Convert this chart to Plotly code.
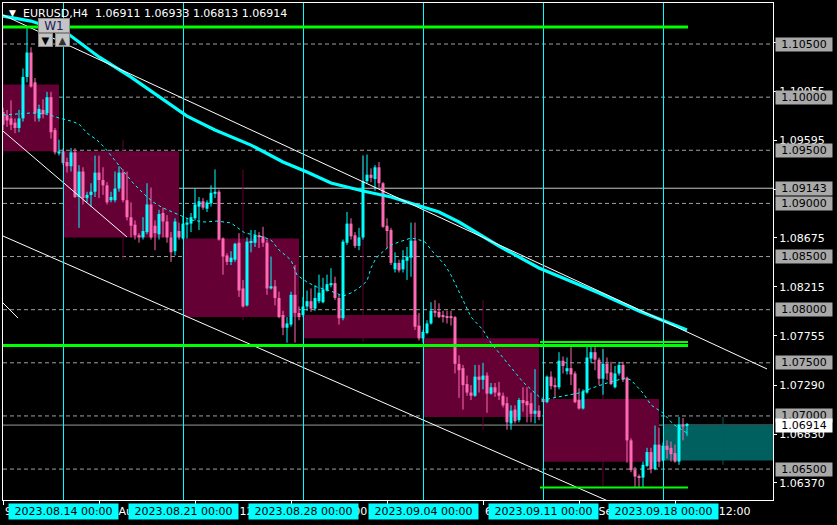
import plotly.graph_objects as go

# ---------------- H4 candles (bar index 0 = 9 Aug 12:00) ----------------
opens = [1.0986, 1.0983, 1.0980, 1.0976, 1.0971, 1.0980, 1.1019, 1.1042, 1.1014, 1.0980,
         1.0988, 1.0985, 1.1000, 1.0969, 1.0947, 1.0949, 1.0939, 1.0935, 1.0948, 1.0906,
         1.0930, 1.0905, 1.0908, 1.0911, 1.0929, 1.0922, 1.0917, 1.0903, 1.0903, 1.0914,
         1.0929, 1.0903, 1.0887, 1.0880, 1.0870, 1.0868, 1.0873, 1.0899, 1.0879, 1.0871,
         1.0891, 1.0883, 1.0868, 1.0855, 1.0874, 1.0867, 1.0880, 1.0881, 1.0886, 1.0897,
         1.0902, 1.0895, 1.0900, 1.0909, 1.0911, 1.0867, 1.0851, 1.0845, 1.0847, 1.0863,
         1.0820, 1.0804, 1.0863, 1.0863, 1.0870, 1.0869, 1.0863, 1.0820, 1.0822, 1.0811,
         1.0795, 1.0783, 1.0786, 1.0814, 1.0797, 1.0795, 1.0803, 1.0808, 1.0801, 1.0808,
         1.0807, 1.0818, 1.0823, 1.0825, 1.0811, 1.0792, 1.0863, 1.0881, 1.0870, 1.0860,
         1.0868, 1.0921, 1.0927, 1.0923, 1.0934, 1.0919, 1.0879, 1.0875, 1.0838, 1.0844,
         1.0838, 1.0846, 1.0849, 1.0865, 1.0785, 1.0773, 1.0778, 1.0787, 1.0799, 1.0798,
         1.0795, 1.0794, 1.0794, 1.0793, 1.0749, 1.0745, 1.0730, 1.0722, 1.0719, 1.0737,
         1.0734, 1.0738, 1.0721, 1.0727, 1.0722, 1.0719, 1.0712, 1.0693, 1.0706, 1.0696,
         1.0715, 1.0714, 1.0712, 1.0702, 1.0705, 1.0716, 1.0713, 1.0737, 1.0729, 1.0727,
         1.0752, 1.0742, 1.0745, 1.0740, 1.0715, 1.0707, 1.0722, 1.0754, 1.0760, 1.0753,
         1.0735, 1.0749, 1.0741, 1.0727, 1.0740, 1.0748, 1.0736, 1.0677, 1.0649, 1.0643,
         1.0642, 1.0653, 1.0666, 1.0650, 1.0673, 1.0658, 1.0672, 1.0670, 1.0665, 1.0657,
         1.0692, 1.06911]
highs = [1.0990, 1.0988, 1.0997, 1.0980, 1.0988, 1.1027, 1.1065, 1.1047, 1.1018, 1.0993,
         1.0998, 1.1005, 1.1005, 1.0971, 1.0960, 1.0952, 1.0943, 1.0952, 1.0952, 1.0936,
         1.0934, 1.0911, 1.0919, 1.0945, 1.0945, 1.0934, 1.0920, 1.0911, 1.0930, 1.0935,
         1.0932, 1.0930, 1.0901, 1.0884, 1.0872, 1.0887, 1.0919, 1.0915, 1.0884, 1.0894,
         1.0896, 1.0889, 1.0873, 1.0886, 1.0882, 1.0887, 1.0886, 1.0891, 1.0914, 1.0906,
         1.0905, 1.0903, 1.0917, 1.0932, 1.0913, 1.0868, 1.0853, 1.0855, 1.0863, 1.0872,
         1.0828, 1.0868, 1.0875, 1.0875, 1.0873, 1.0878, 1.0866, 1.0850, 1.0828, 1.0817,
         1.0799, 1.0793, 1.0817, 1.0842, 1.0803, 1.0812, 1.0818, 1.0820, 1.0823, 1.0833,
         1.0830, 1.0833, 1.0839, 1.0831, 1.0814, 1.0866, 1.0892, 1.0886, 1.0873, 1.0877,
         1.0945, 1.0946, 1.0933, 1.0936, 1.0939, 1.0920, 1.0886, 1.0877, 1.0854, 1.0847,
         1.0856, 1.0859, 1.0882, 1.0882, 1.0797, 1.0781, 1.0790, 1.0807, 1.0809, 1.0806,
         1.0799, 1.0799, 1.0799, 1.0794, 1.0757, 1.0748, 1.0738, 1.0729, 1.0748, 1.0748,
         1.0750, 1.0741, 1.0731, 1.0731, 1.0732, 1.0722, 1.0718, 1.0710, 1.0710, 1.0717,
         1.0727, 1.0727, 1.0722, 1.0744, 1.0710, 1.0718, 1.0738, 1.0742, 1.0736, 1.0760,
         1.0756, 1.0755, 1.0767, 1.0742, 1.0726, 1.0725, 1.0767, 1.0767, 1.0767, 1.0755,
         1.0763, 1.0755, 1.0751, 1.0747, 1.0751, 1.0751, 1.0737, 1.0679, 1.0652, 1.0645,
         1.0657, 1.0670, 1.0670, 1.0691, 1.0689, 1.0675, 1.0677, 1.0676, 1.0673, 1.0699,
         1.0698, 1.06933]
lows = [1.0969, 1.0972, 1.0969, 1.0966, 1.0967, 1.0977, 1.1014, 1.1009, 1.0977, 1.0977,
        1.0980, 1.0983, 1.0961, 1.0946, 1.0945, 1.0936, 1.0929, 1.0930, 1.0905, 1.0877,
        1.0899, 1.0901, 1.0897, 1.0906, 1.0905, 1.0908, 1.0899, 1.0901, 1.0901, 1.0911,
        1.0901, 1.0884, 1.0868, 1.0866, 1.0863, 1.0866, 1.0871, 1.0866, 1.0856, 1.0866,
        1.0868, 1.0863, 1.0845, 1.0851, 1.0866, 1.0866, 1.0867, 1.0873, 1.0884, 1.0875,
        1.0894, 1.0892, 1.0897, 1.0905, 1.0865, 1.0833, 1.0842, 1.0842, 1.0845, 1.0812,
        1.0802, 1.0803, 1.0854, 1.0859, 1.0858, 1.0859, 1.0814, 1.0819, 1.0804, 1.0792,
        1.0776, 1.0769, 1.0784, 1.0769, 1.0790, 1.0793, 1.0799, 1.0798, 1.0799, 1.0806,
        1.0806, 1.0817, 1.0821, 1.0809, 1.0786, 1.0790, 1.0861, 1.0866, 1.0858, 1.0856,
        1.0866, 1.0919, 1.0920, 1.0912, 1.0915, 1.0877, 1.0858, 1.0842, 1.0835, 1.0835,
        1.0835, 1.0828, 1.0831, 1.0781, 1.0771, 1.0769, 1.0777, 1.0786, 1.0793, 1.0792,
        1.0788, 1.0787, 1.0785, 1.0740, 1.0717, 1.0706, 1.0719, 1.0715, 1.0718, 1.0722,
        1.0725, 1.0703, 1.0720, 1.0718, 1.0715, 1.0708, 1.0687, 1.0687, 1.0693, 1.0694,
        1.0704, 1.0694, 1.0694, 1.0693, 1.0696, 1.0713, 1.0712, 1.0725, 1.0717, 1.0725,
        1.0740, 1.0739, 1.0729, 1.0712, 1.0706, 1.0706, 1.0721, 1.0750, 1.0743, 1.0729,
        1.0720, 1.0734, 1.0729, 1.0726, 1.0738, 1.0732, 1.0656, 1.0647, 1.0633, 1.0633,
        1.0633, 1.0652, 1.0646, 1.0649, 1.0652, 1.0657, 1.0660, 1.0657, 1.0656, 1.0654,
        1.0677, 1.06813]
closes = [1.0974, 1.0978, 1.0974, 1.0971, 1.0980, 1.1019, 1.1042, 1.1010, 1.0985, 1.0989,
          1.0984, 1.1000, 1.0967, 1.0948, 1.0949, 1.0938, 1.0935, 1.0948, 1.0906, 1.0930,
          1.0905, 1.0908, 1.0911, 1.0929, 1.0922, 1.0917, 1.0901, 1.0906, 1.0914, 1.0929,
          1.0903, 1.0887, 1.0879, 1.0870, 1.0868, 1.0874, 1.0899, 1.0868, 1.0872, 1.0890,
          1.0883, 1.0868, 1.0854, 1.0883, 1.0868, 1.0881, 1.0882, 1.0887, 1.0899, 1.0902,
          1.0896, 1.0901, 1.0910, 1.0911, 1.0866, 1.0850, 1.0845, 1.0849, 1.0862, 1.0818,
          1.0803, 1.0864, 1.0864, 1.0870, 1.0868, 1.0863, 1.0820, 1.0822, 1.0811, 1.0793,
          1.0783, 1.0787, 1.0814, 1.0797, 1.0793, 1.0803, 1.0808, 1.0801, 1.0811, 1.0816,
          1.0819, 1.0824, 1.0825, 1.0811, 1.0792, 1.0864, 1.0881, 1.0869, 1.0860, 1.0868,
          1.0921, 1.0927, 1.0924, 1.0934, 1.0919, 1.0878, 1.0874, 1.0844, 1.0844, 1.0837,
          1.0847, 1.0850, 1.0865, 1.0784, 1.0773, 1.0779, 1.0787, 1.0799, 1.0797, 1.0793,
          1.0793, 1.0793, 1.0792, 1.0749, 1.0743, 1.0729, 1.0722, 1.0719, 1.0737, 1.0734,
          1.0738, 1.0721, 1.0727, 1.0722, 1.0719, 1.0710, 1.0694, 1.0705, 1.0695, 1.0715,
          1.0712, 1.0710, 1.0702, 1.0705, 1.0699, 1.0713, 1.0737, 1.0728, 1.0727, 1.0752,
          1.0747, 1.0745, 1.0739, 1.0713, 1.0707, 1.0723, 1.0755, 1.0760, 1.0753, 1.0735,
          1.0749, 1.0740, 1.0730, 1.0740, 1.0748, 1.0734, 1.0677, 1.0649, 1.0643, 1.0642,
          1.0654, 1.0666, 1.0650, 1.0673, 1.0657, 1.0672, 1.0668, 1.0664, 1.0657, 1.0692,
          1.0690, 1.06914]
bar_index = list(range(len(opens)))

# ---------------- Weekly (W1) candles ----------------
week_start = [-15, 15, 45, 75, 105, 135, 165]
week_open = [1.1012, 1.0949, 1.0867, 1.0795, 1.0773, 1.0716, 1.0658]
week_close = [1.0949, 1.0868, 1.0793, 1.0773, 1.0699, 1.0657, 1.06914]
week_high = [1.1065, 1.0960, 1.0932, 1.0946, 1.0809, 1.0765, 1.0699]
week_low = [1.0945, 1.0847, 1.0790, 1.0770, 1.0687, 1.0633, 1.0654]
separator_idx = [15, 45, 75, 105, 135, 165]
separator_labels = ["2023.08.14 00:00", "2023.08.21 00:00", "2023.08.28 00:00",
                    "2023.09.04 00:00", "2023.09.11 00:00", "2023.09.18 00:00"]

# ---------------- Moving averages (read at sample bars) ----------------
ma_slow_idx = [0, 7, 16, 24, 32, 41, 46, 53, 62, 70, 76, 82, 90, 97, 102, 109, 114,
               124, 134, 142, 149, 159, 171]
ma_slow_val = [1.10763, 1.10716, 1.10603, 1.10378, 1.10189, 1.09954, 1.09822, 1.09691,
               1.09549, 1.09390, 1.09296, 1.09192, 1.09117, 1.09060, 1.09004, 1.08919,
               1.08825, 1.08599, 1.08392, 1.08270, 1.08157, 1.07988, 1.07809]
ma_fast_idx = [0, 3, 7, 11, 14, 17, 19, 21, 23.5, 25.5, 27.5, 30, 32.5, 35.5, 37.5, 40,
               42.5, 45, 47, 50.5, 53.5, 57, 58.5, 60.5, 63, 65, 67, 69, 72, 73.5, 76,
               78.5, 82, 85, 87, 89, 91, 92, 93, 94, 95.5, 97, 99, 102, 103.5, 105.5,
               107.5, 109, 110.5, 112, 113.5, 115, 117, 120, 122, 125, 127.5, 130, 133,
               135, 137.5, 140.5, 144, 148, 151, 155.5, 157, 160, 162, 165, 167.5, 171]
ma_fast_val = [1.09832, 1.09841, 1.09851, 1.09841, 1.09804, 1.09775, 1.09747, 1.09662,
               1.09597, 1.09521, 1.09427, 1.09314, 1.09192, 1.09079, 1.09013, 1.08957,
               1.08919, 1.08881, 1.08844, 1.08825, 1.08834, 1.08816, 1.08778, 1.08721,
               1.08703, 1.08684, 1.08656, 1.08562, 1.08467, 1.08326, 1.08260, 1.08213,
               1.08175, 1.08128, 1.08157, 1.08204, 1.08270, 1.08392, 1.08467, 1.08514,
               1.08562, 1.08609, 1.08637, 1.08674, 1.08665, 1.08637, 1.08543, 1.08486,
               1.08420, 1.08326, 1.08213, 1.08091, 1.07931, 1.07809, 1.07686, 1.07545,
               1.07432, 1.07319, 1.07216, 1.07150, 1.07169, 1.07188, 1.07216, 1.07272,
               1.07310, 1.07357, 1.07338, 1.07216, 1.07103, 1.07028, 1.06924, 1.06839]

# ---------------- Drawn objects ----------------
trend_upper_idx = [0, 191]
trend_upper_val = [1.10773, 1.07442]
trend_mid_idx = [0, 31]
trend_mid_val = [1.09681, 1.08684]
trend_lower_idx = [0, 153]
trend_lower_val = [1.08693, 1.06171]
trend_small_idx = [0, 3.75]
trend_small_val = [1.08063, 1.07921]

dashed_levels = [1.105, 1.100, 1.095, 1.090, 1.085, 1.080, 1.075, 1.070, 1.065]
solid_level = 1.09143
bid_price = 1.06914
green_long_levels = [1.10660, 1.07663]
green_short_levels = [1.07696, 1.06327]
green_long_span = [0, 171.25]
green_short_span = [134.25, 171.25]

price_ticks = [1.10515, 1.10055, 1.09595, 1.09135, 1.08675, 1.08215, 1.07755,
               1.07290, 1.06830, 1.06370]
time_tick_idx = [0, 24, 48, 72, 96, 120, 144, 168]
time_tick_text = ["9 Aug 2023", "15 Aug 12:00", "21 Aug 12:00", "25 Aug 12:00",
                  "31 Aug 12:00", "6 Sep 12:00", "12 Sep 12:00", "18 Sep 12:00"]

BULL = "#00ffff"
BEAR = "#ff69b4"
FONT = "DejaVu Sans"

fig = go.Figure()

# wicks
for color, up in ((BULL, True), (BEAR, False)):
    wx, wy = [], []
    for i in bar_index:
        if (closes[i] >= opens[i]) == up:
            wx += [i, i, None]
            wy += [lows[i], highs[i], None]
    fig.add_trace(go.Scatter(x=wx, y=wy, mode="lines", line=dict(color=color, width=1),
                             hoverinfo="skip", showlegend=False))

# bodies
for color, up in ((BULL, True), (BEAR, False)):
    idx = [i for i in bar_index if (closes[i] >= opens[i]) == up]
    fig.add_trace(go.Bar(
        x=idx,
        base=[min(opens[i], closes[i]) for i in idx],
        y=[max(abs(closes[i] - opens[i]), 0.0001) for i in idx],
        width=0.75, marker=dict(color=color, line=dict(width=0)),
        hoverinfo="skip", showlegend=False))

# moving averages
fig.add_trace(go.Scatter(x=ma_fast_idx, y=ma_fast_val, mode="lines",
                         line=dict(color=BULL, width=1, dash="3px,3px"),
                         hoverinfo="skip", showlegend=False))
fig.add_trace(go.Scatter(x=ma_slow_idx, y=ma_slow_val, mode="lines",
                         line=dict(color=BULL, width=3.2),
                         hoverinfo="skip", showlegend=False))

# trend lines
for tx, ty in ((trend_upper_idx, trend_upper_val), (trend_mid_idx, trend_mid_val),
               (trend_lower_idx, trend_lower_val), (trend_small_idx, trend_small_val)):
    fig.add_trace(go.Scatter(x=tx, y=ty, mode="lines", line=dict(color="white", width=1),
                             hoverinfo="skip", showlegend=False))

shapes = []
# weekly candles
for s, o, c, h, l in zip(week_start, week_open, week_close, week_high, week_low):
    col = "#005f5f" if c > o else "#650035"
    shapes.append(dict(type="rect", xref="x", yref="y", x0=s, x1=s + 29, y0=o, y1=c,
                       fillcolor=col, line=dict(width=0), layer="below"))
    shapes.append(dict(type="line", xref="x", yref="y", x0=s + 15, x1=s + 15, y0=l, y1=h,
                       line=dict(color=col, width=1), layer="below"))
# dashed levels
for lv in dashed_levels:
    shapes.append(dict(type="line", xref="paper", yref="y", x0=0, x1=1, y0=lv, y1=lv,
                       line=dict(color="#a0a0a0", width=1, dash="4px,3px"), layer="between"))
shapes.append(dict(type="line", xref="paper", yref="y", x0=0, x1=1, y0=solid_level,
                   y1=solid_level, line=dict(color="#c8c8c8", width=1), layer="between"))
shapes.append(dict(type="line", xref="paper", yref="y", x0=0, x1=1, y0=bid_price,
                   y1=bid_price, line=dict(color="#9a9a9a", width=1), layer="between"))
# period separators (offset by half a pixel for a crisp 1px line)
for s in separator_idx:
    shapes.append(dict(type="line", xref="x", yref="paper", x0=s + 0.125, x1=s + 0.125,
                       y0=0, y1=1, line=dict(color=BULL, width=1), layer="above"))
# green levels
for lv in green_long_levels:
    shapes.append(dict(type="line", xref="x", yref="y", x0=green_long_span[0],
                       x1=green_long_span[1], y0=lv, y1=lv,
                       line=dict(color="#00ff00", width=3), layer="above"))
for lv in green_short_levels:
    shapes.append(dict(type="line", xref="x", yref="y", x0=green_short_span[0],
                       x1=green_short_span[1], y0=lv, y1=lv,
                       line=dict(color="#00ff00", width=2), layer="above"))


def px(xp):
    return (xp - 3) / 770.0


def py(yp):
    return (500 - yp) / 497.0


annotations = []
# W1 button panel
btn = dict(xref="paper", yref="paper", xanchor="center", yanchor="middle",
           showarrow=False, bgcolor="#c4c4c4", bordercolor="#8a8a8a",
           borderwidth=1, borderpad=0)
annotations.append(dict(btn, x=px(54), y=py(25.5), text="W1", width=30, height=13,
                        font=dict(family=FONT, size=12, color="#20205a")))
annotations.append(dict(btn, x=px(45.5), y=py(40), text="▼", width=13, height=12,
                        font=dict(family=FONT, size=10, color="black")))
annotations.append(dict(btn, x=px(62), y=py(40), text="▲", width=13, height=12,
                        font=dict(family=FONT, size=10, color="#303030")))
# title
annotations.append(dict(xref="paper", yref="paper", x=0, y=1, xanchor="left", yanchor="top",
                        xshift=4, yshift=-3, text="▼", showarrow=False,
                        font=dict(family=FONT, size=9, color="white")))
annotations.append(dict(xref="paper", yref="paper", x=0, y=1, xanchor="left", yanchor="top",
                        xshift=18, yshift=-2,
                        text="EURUSD,H4  1.06911 1.06933 1.06813 1.06914",
                        showarrow=False, font=dict(family=FONT, size=11, color="white")))
# time tick labels
for ti, tt in zip(time_tick_idx, time_tick_text):
    annotations.append(dict(xref="x", yref="paper", x=ti, y=0, xanchor="left",
                            yanchor="top", yshift=-3, text=tt, showarrow=False,
                            font=dict(family=FONT, size=11, color="white")))
# separator date boxes
for s, lab in zip(separator_idx, separator_labels):
    annotations.append(dict(xref="x", yref="paper", x=s, y=0, xanchor="center",
                            yanchor="top", yshift=-3, text=lab, showarrow=False,
                            bgcolor="#00ffff", width=107, height=13, borderpad=1,
                            font=dict(family=FONT, size=11, color="black")))
# price labels on the right
for lv in dashed_levels + [solid_level]:
    annotations.append(dict(xref="paper", yref="y", x=1, y=lv, xanchor="left",
                            yanchor="middle", xshift=2, text=f"{lv:.5f}", showarrow=False,
                            bgcolor="#a9a9a9", width=56, height=13, borderpad=0,
                            font=dict(family=FONT, size=11, color="black")))
annotations.append(dict(xref="paper", yref="y", x=1, y=bid_price, xanchor="left",
                        yanchor="middle", xshift=2, text=f"{bid_price:.5f}", showarrow=False,
                        bgcolor="white", width=56, height=13, borderpad=0,
                        font=dict(family=FONT, size=11, color="black")))

fig.update_layout(
    width=837, height=525,
    margin=dict(l=3, r=64, t=3, b=25),
    paper_bgcolor="black", plot_bgcolor="black",
    barmode="overlay", showlegend=False,
    font=dict(family=FONT, size=11, color="white"),
    shapes=shapes, annotations=annotations,
    xaxis=dict(range=[0, 192.5], showgrid=False, zeroline=False,
               tickmode="array", tickvals=time_tick_idx, ticks="outside", ticklen=4,
               tickcolor="white", showticklabels=False,
               showline=True, linecolor="white", linewidth=1, mirror=True),
    yaxis=dict(range=[1.06209, 1.10886], side="right", showgrid=False, zeroline=False,
               tickmode="array", tickvals=price_ticks,
               ticktext=[f"{t:.5f}" for t in price_ticks],
               ticks="outside", ticklen=3, tickcolor="white",
               tickfont=dict(family=FONT, size=11, color="white"),
               showline=True, linecolor="white", linewidth=1, mirror=True),
)

fig.write_html("out.html", config={"displayModeBar": False},
               post_script="document.body.style.margin='0';document.body.style.overflow='hidden';")
